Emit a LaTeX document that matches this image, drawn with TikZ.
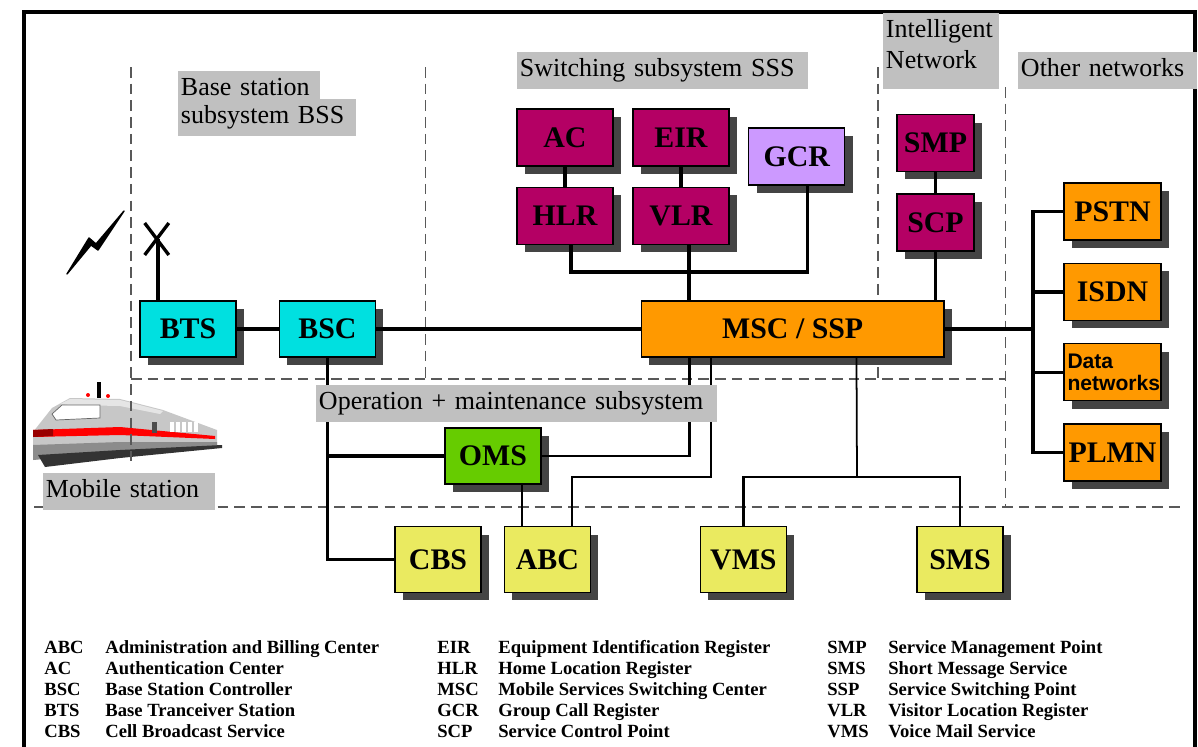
\documentclass[tikz,border=0pt]{standalone}
\usepackage{fontspec}
\setmainfont{Liberation Serif}
\newfontfamily\netsans{Liberation Sans}
\usetikzlibrary{positioning,shadows}
\definecolor{regmagenta}{RGB}{180,0,100}
\definecolor{bsscyan}{RGB}{0,224,224}
\definecolor{extorange}{RGB}{255,153,0}
\definecolor{gcrlilac}{RGB}{204,153,255}
\definecolor{omsgreen}{RGB}{102,204,0}
\definecolor{svcyellow}{RGB}{234,234,96}
\definecolor{labelgray}{RGB}{192,192,192}
\definecolor{shadowgray}{RGB}{68,68,68}
\tikzset
{
    netbox/.style   = {rectangle, draw=black, line width=0.8pt, align=center, inner sep=0pt, minimum width=1.92cm, minimum height=1.12cm, font=\fontsize{17}{19}\selectfont\bfseries, drop shadow={shadow xshift=0.16cm, shadow yshift=-0.16cm, fill=shadowgray, opacity=1}},
    bssnode/.style  = {netbox, fill=bsscyan},
    regnode/.style  = {netbox, fill=regmagenta, minimum height=1.14cm},
    extnode/.style  = {netbox, fill=extorange, minimum width=1.94cm, minimum height=1.14cm},
    svcnode/.style  = {netbox, fill=svcyellow, minimum width=1.72cm, minimum height=1.32cm},
    graylabel/.style = {fill=labelgray, anchor=north west, align=left, inner xsep=1.5pt, inner ysep=3pt, text height=10.7pt, text depth=4.4pt, font=\fontsize{14.8}{16}\selectfont},
    legabbr/.style  = {anchor=base west, inner sep=0pt, font=\fontsize{10.6}{12}\selectfont\bfseries},
    link/.style     = {line width=1.9pt},
    midlink/.style  = {line width=1.4pt},
    wire/.style     = {line width=1pt},
    zoneline/.style = {draw=black!65, line width=0.7pt, dash pattern=on 6pt off 3.5pt},
    outerframe/.style = {line width=2pt}
}

\begin{document}
\begin{tikzpicture}[x=0.02cm, y=-0.02cm]
	\useasboundingbox (0,0) rectangle (1198,747);
	\draw[outerframe] (24,747) -- (24,12) -- (1195,12) -- (1195,747);

	% train
	\fill[black!22] (33,432) -- (52,408) -- (70,398) -- (120,399) -- (163,410) -- (217,430) -- (217,446) -- (120,450) -- (33,460) -- cycle;
	\fill[black!10] (60,404) -- (70,399) -- (120,400) -- (163,411) -- (160,414) -- (120,406) -- (70,405) -- cycle;
	\filldraw[fill=white, draw=black!60, line width=0.4pt] (52,414) -- (62,405) -- (100,405) -- (100,418) -- (56,420) -- cycle;
	\fill[red] (33,430) -- (120,427) -- (215,436) -- (215,439) -- (120,435) -- (33,437) -- cycle;
	\fill[red!60!black] (33,430) -- (53,429) -- (53,436) -- (33,437) -- cycle;
	\fill[black!45] (33,445) -- (120,442) -- (217,442) -- (217,446) -- (120,452) -- (33,460) -- cycle;
	\fill[black!80] (38,455) -- (120,450) -- (222,445) -- (222,448) -- (120,458) -- (45,467) -- cycle;
	\foreach \wx in {170,176,182,188,194}
		\fill[white] (\wx,422) rectangle (\wx+4,432);
	\fill[black!70] (152,422) rectangle (157,433);
	\fill[red] (88,395) circle (2) (108,396) circle (2);
	\draw[link] (99,382) -- (99,398);

	% zones
	\draw[zoneline] (131,67) -- (131,467);
	\draw[zoneline] (425.6,67) -- (425.6,379);
	\draw[zoneline] (878,67) -- (878,379);
	\draw[zoneline] (1005.6,87) -- (1005.6,507);
	\draw[zoneline] (131,379) -- (1005.6,379);
	\draw[zoneline] (34,507) -- (1184,507);

	\node[bssnode] (bts) at (188,329) {BTS};
	\node[bssnode] (bsc) [right=0.84cm of bts] {BSC};
	\node[netbox, fill=extorange, minimum width=6.06cm] (msc) at (792.7,329) {MSC / SSP};
	\node[regnode] (ac) at (565,137.5) {AC};
	\node[regnode] (hlr) [below=0.4cm of ac] {HLR};
	\node[regnode] (eir) at (681,137.5) {EIR};
	\node[regnode] (vlr) [below=0.4cm of eir] {VLR};
	\node[netbox, fill=gcrlilac, minimum height=1.14cm] (gcr) at (796.7,156.5) {GCR};
	\node[regnode, minimum width=1.54cm] (smp) at (935.5,143) {SMP};
	\node[regnode, minimum width=1.54cm] (scp) [below=0.42cm of smp] {SCP};
	\node[extnode] (pstn) at (1112.5,211.5) {PSTN};
	\node[extnode] (isdn) [below=0.44cm of pstn] {ISDN};
	\node[extnode, align=left, text width=1.8cm, font=\netsans\bfseries\fontsize{12}{13}\selectfont] (data) [below=0.44cm of isdn] {Data\\networks};
	\node[extnode] (plmn) [below=0.44cm of data] {PLMN};
	\node[netbox, fill=omsgreen] (oms) at (493,456) {OMS};
	\node[svcnode] (cbs) at (438,559.5) {CBS};
	\node[svcnode] (abc) [right=0.44cm of cbs] {ABC};
	\node[svcnode] (vms) at (743.4,559.5) {VMS};
	\node[svcnode] (sms) at (960,559.5) {SMS};

	\coordinate (ant) at (158,239);
	\coordinate (regbus) at (690,272);
	\coordinate (bus) at (1033,329);
	\coordinate (abcbend) at (711,477);
	\coordinate (svcbar) at (857,477);

	\draw[link] (bts.north -| ant) -- (ant);
	\draw[link] (144.7,223) -- (168.8,255) (168.8,223) -- (144.7,255);
	\filldraw[line width=0.8pt, line join=round] (67,274) -- (89,238) -- (96,244) -- (124,211) -- (98,250) -- (91,245) -- cycle;

	\draw[link] (bts) -- (bsc);
	\draw[link] (bsc) -- (msc);
	\draw[link] (ac) -- (hlr);
	\draw[link] (eir) -- (vlr);
	\draw[midlink] (smp) -- (scp);
	\draw[link] ([xshift=0.12cm]hlr.south) |- (regbus) -| ([xshift=0.22cm]gcr.south);
	\draw[link] ([xshift=0.16cm]vlr.south) -- ([xshift=0.16cm]vlr.south |- msc.north);
	\draw[midlink] (scp.south) -- (scp.south |- msc.north);
	\draw[link] (msc.east) -- (bus);
	\draw[link] (pstn.west) -| (bus |- plmn) -- (plmn.west);
	\draw[link] (isdn.west) -- (isdn.west -| bus);
	\draw[link] (data.west) -- (data.west -| bus);
	\draw[link] (bsc.south) |- (cbs.west);
	\draw[link] (bsc.south |- oms.west) -- (oms.west);
	\draw[midlink] (oms.east) -| ([xshift=0.98cm]msc.south west);
	\draw[wire] ([xshift=1.36cm]abc.north west) |- (abcbend) -- (abcbend |- msc.south);
	\draw[wire] ([xshift=0.58cm]oms.south) -- ([xshift=0.58cm]oms.south |- abc.north);
	\draw[wire] ([xshift=4.32cm]msc.south west) -- (svcbar);
	\draw[midlink] (vms.north) |- (svcbar) -| (sms.north);

	\node[graylabel, text width=5.71cm] (ssslbl) at (517,52) {Switching subsystem SSS};
	\node[graylabel, text width=2.73cm] (bsslblA) at (178,71) {Base station};
	\node[graylabel, text width=3.45cm] (bsslblB) at (178,99) {subsystem BSS};
	\node[graylabel, text width=2.21cm] (inlblA) at (883,13) {Intelligent};
	\node[graylabel, text width=2.21cm, text depth=8.95pt] (inlblB) at (883,44) {Network};
	\node[graylabel, text width=3.47cm] (othlbl) at (1018,52) {Other networks};
	\node[graylabel, text width=7.91cm] (omlbl) at (316,385) {Operation + maintenance subsystem};
	\node[graylabel, text width=3.33cm] (mslbl) at (43,473) {Mobile station};

	\foreach \ab/\tx [count=\i] in {ABC/Administration and Billing Center, AC/Authentication Center, BSC/Base Station Controller, BTS/Base Tranceiver Station, CBS/Cell Broadcast Service}
	{
		\node[legabbr] (abbrA\i) at (44,632+21*\i) {\ab};
		\node[legabbr] (textA\i) at (105,632+21*\i) {\tx};
	}
	\foreach \ab/\tx [count=\i] in {EIR/Equipment Identification Register, HLR/Home Location Register, MSC/Mobile Services Switching Center, GCR/Group Call Register, SCP/Service Control Point}
	{
		\node[legabbr] (abbrB\i) at (437,632+21*\i) {\ab};
		\node[legabbr] (textB\i) at (498,632+21*\i) {\tx};
	}
	\foreach \ab/\tx [count=\i] in {SMP/Service Management Point, SMS/Short Message Service, SSP/Service Switching Point, VLR/Visitor Location Register, VMS/Voice Mail Service}
	{
		\node[legabbr] (abbrC\i) at (827,632+21*\i) {\ab};
		\node[legabbr] (textC\i) at (888,632+21*\i) {\tx};
	}
\end{tikzpicture}
\end{document}
